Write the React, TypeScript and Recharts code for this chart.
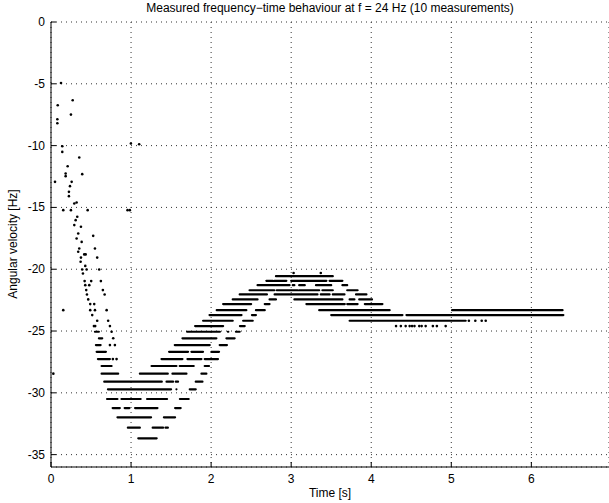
import React from 'react';
import { ComposedChart, Line, Scatter, XAxis, YAxis, CartesianGrid } from 'recharts';

const xTicks = [0, 1, 2, 3, 4, 5, 6];
const yTicks = [0, -5, -10, -15, -20, -25, -30, -35];

// single samples [t, f] during the run-up
const startPoints: [number, number][] = [
  [0.125, -4.93], [0.271, -6.33], [0.084, -6.73], [0.249, -7.49], [0.079, -7.87], [0.079, -8.19],
  [0.998, -9.83], [1.101, -9.89], [0.141, -10.05], [0.141, -10.51], [0.353, -10.96], [0.208, -11.67],
  [0.183, -12.26], [0.183, -12.47], [0.39, -12.31], [0.258, -12.93], [0.05, -12.93], [0.237, -13.28],
  [0.224, -13.74], [0.224, -14.09], [0.291, -14.68], [0.32, -14.6], [0.153, -15.22], [0.249, -15.22],
  [0.458, -15.22], [0.956, -15.22], [0.985, -15.22], [0.328, -15.76], [0.308, -16.03], [0.291, -16.43],
  [0.374, -16.57], [0.34, -17.11], [0.32, -17.51], [0.527, -17.3], [0.383, -17.79], [0.353, -18.32],
  [0.34, -18.59], [0.549, -18.32], [0.415, -18.8], [0.433, -18.8], [0.374, -19.06], [0.577, -19.06],
  [0.37, -19.4], [0.428, -19.73], [0.39, -20.02], [0.445, -20.02], [0.602, -20.02], [0.399, -20.34],
  [0.42, -20.96], [0.502, -20.96], [0.623, -20.96], [0.428, -21.29], [0.478, -21.29], [0.44, -21.69],
  [0.648, -21.69], [0.449, -22.04], [0.67, -22.04], [0.465, -22.44], [0.49, -22.82], [0.54, -22.82],
  [0.153, -23.31], [0.49, -23.31], [0.549, -23.31], [0.695, -23.31], [0.515, -23.71], [0.577, -24.17],
  [0.714, -24.17], [0.536, -24.6], [0.552, -24.6], [0.736, -24.6], [0.757, -25.06], [0.777, -25.59],
  [0.736, -26.14], [0.798, -26.14], [0.773, -27.27], [0.819, -27.27], [0.029, -28.45],
];

// single samples near the top and on the plateau
const laterPoints: [number, number][] = [
  [3.03, -20.3], [3.37, -20.3],
  [5.22, -24.17], [5.3, -24.17], [5.38, -24.17], [5.43, -24.17],
  [4.31, -24.6], [4.37, -24.6], [4.43, -24.6], [4.48, -24.6], [4.51, -24.6], [4.54, -24.6],
  [4.6, -24.6], [4.63, -24.6], [4.68, -24.6], [4.77, -24.6], [4.82, -24.6], [4.93, -24.6],
];

// dense runs of samples on one level: [f, tStart, tEnd]
const dipRuns: [number, number, number][] = [
  [-25.06, 0.549, 0.598], [-25.59, 0.598, 0.64], [-26.14, 0.561, 0.62], [-26.68, 0.57, 0.686],
  [-27.27, 0.586, 0.736], [-27.83, 0.632, 0.757], [-28.45, 0.632, 0.839],
  [-28.45, 1.11, 1.459], [-28.45, 1.517, 1.692], [-28.45, 1.879, 1.941],
  [-27.83, 1.256, 1.567], [-27.83, 1.608, 1.783], [-27.83, 1.92, 1.974],
  [-27.27, 1.38, 1.642], [-27.27, 1.704, 1.879], [-27.27, 1.92, 2.086],
  [-26.68, 1.475, 1.712], [-26.68, 1.754, 1.899], [-26.68, 2.004, 2.099],
  [-26.14, 1.546, 1.983], [-26.14, 2.107, 2.198],
  [-25.59, 1.642, 2.066], [-25.59, 2.191, 2.294],
  [-25.06, 1.7, 2.11], [-25.06, 2.21, 2.215], [-25.06, 2.31, 2.357],
  [-29.1, 0.665, 1.384], [-29.1, 1.443, 1.525], [-29.1, 1.559, 1.587], [-29.1, 1.808, 1.892],
  [-29.72, 0.711, 1.5], [-29.72, 1.567, 1.567], [-29.72, 1.733, 1.808],
  [-30.5, 0.7, 0.83], [-30.5, 0.88, 1.12], [-30.5, 1.2, 1.45], [-30.5, 1.61, 1.72],
  [-31.23, 0.77, 0.86], [-31.23, 0.92, 0.98], [-31.23, 1.05, 1.33], [-31.23, 1.55, 1.62],
  [-31.98, 0.83, 1.25], [-31.98, 1.41, 1.55],
  [-32.82, 0.96, 1.11], [-32.82, 1.27, 1.4], [-32.82, 1.43, 1.46],
  [-33.68, 1.09, 1.32],
];

const riseRuns: [number, number, number][] = [
  [-24.6, 1.8, 2.15], [-24.6, 2.36, 2.42],
  [-24.17, 1.9, 2.27], [-24.17, 2.4, 2.52],
  [-23.71, 1.98, 2.38], [-23.71, 2.51, 2.56],
  [-23.31, 2.07, 2.44], [-23.31, 2.56, 2.67],
  [-22.82, 2.15, 2.5], [-22.82, 2.67, 2.73],
  [-22.44, 2.27, 2.58], [-22.44, 2.73, 2.81],
  [-22.04, 2.357, 2.697],
  [-21.7, 2.48, 2.79],
  [-21.29, 2.58, 2.98],
  [-20.94, 2.69, 2.77], [-20.94, 2.79, 2.94],
  [-20.56, 2.81, 3.52],
];

const fallRuns: [number, number, number][] = [
  [-20.94, 3.0, 3.44], [-20.94, 3.48, 3.64],
  [-21.29, 3.02, 3.04], [-21.29, 3.1, 3.17], [-21.29, 3.31, 3.5], [-21.29, 3.64, 3.7],
  [-21.7, 2.82, 3.08], [-21.7, 3.1, 3.35], [-21.7, 3.39, 3.52], [-21.7, 3.7, 3.83],
  [-22.04, 2.793, 3.329], [-22.04, 3.37, 3.48], [-22.04, 3.52, 3.666], [-22.04, 3.81, 3.94],
  [-22.44, 3.04, 3.64], [-22.44, 3.73, 3.79], [-22.44, 3.85, 4.01],
  [-22.82, 3.19, 3.67], [-22.82, 3.7, 3.83], [-22.82, 3.92, 4.14],
  [-23.31, 3.35, 4.23],
];

const plateauRuns: [number, number, number][] = [
  [-23.71, 3.5, 4.39], [-23.71, 4.44, 6.4],
  [-23.31, 5.01, 6.39],
  [-24.17, 3.73, 5.18],
];

const toPoints = (pts: [number, number][]) => pts.map(([t, f]) => ({ t, f }));
const toRuns = (runs: [number, number, number][]) =>
  runs.flatMap(([f, a, b]) => [{ t: a, f }, { t: b, f }, { t: b, f: null }]);

const runData = toRuns([...dipRuns, ...riseRuns, ...fallRuns, ...plateauRuns]);
const pointData = toPoints([...startPoints, ...laterPoints]);

const font = '"Liberation Sans", Arial, Helvetica, sans-serif';

const YTick = (props: any) => {
  const { x, y, payload } = props;
  return (
    <g>
      <line x1={x + 6} x2={x + 11} y1={y} y2={y} stroke="#000" />
      <text x={x} y={y} dy={4} textAnchor="end" fontSize={12} fontFamily={font} fill="#000">
        {payload.value}
      </text>
    </g>
  );
};

const XTick = (props: any) => {
  const { x, y, payload } = props;
  return (
    <g>
      <line x1={x} x2={x} y1={y - 12} y2={y - 17} stroke="#000" />
      <text x={x} y={y} dy={4} textAnchor="middle" fontSize={12} fontFamily={font} fill="#000">
        {payload.value}
      </text>
    </g>
  );
};

const Dot = (props: any) => <circle cx={props.cx} cy={props.cy} r={1.3} fill="#000" />;

export default function App() {
  return (
    <div style={{ position: 'absolute', left: 0, top: 0, width: 609, height: 503, background: '#fff', fontFamily: font }}>
      <div style={{ position: 'absolute', left: 51, top: 1, width: 558, textAlign: 'center', fontSize: 12, lineHeight: '14px' }}>
        Measured frequency−time behaviour at f = 24 Hz (10 measurements)
      </div>
      <div style={{ position: 'absolute', left: 51, top: 486, width: 558, textAlign: 'center', fontSize: 12, lineHeight: '14px' }}>
        Time [s]
      </div>
      <div
        style={{
          position: 'absolute', left: 13 - 150, top: 244 - 7, width: 300, height: 14,
          textAlign: 'center', fontSize: 12, lineHeight: '14px', transform: 'rotate(-90deg)',
        }}
      >
        Angular velocity [Hz]
      </div>
      <ComposedChart width={609} height={503} margin={{ top: 22, right: 0, bottom: 0, left: 0 }}>
        <CartesianGrid stroke="#333" strokeDasharray="1 4" />
        <XAxis
          dataKey="t"
          type="number"
          domain={[0, 6.97]}
          ticks={xTicks}
          allowDataOverflow
          height={36}
          tickSize={0}
          tickMargin={12}
          axisLine={{ stroke: '#000' }}
          tick={<XTick />}
        />
        <YAxis
          dataKey="f"
          type="number"
          domain={[-36, 0]}
          ticks={yTicks}
          allowDataOverflow
          width={51}
          tickSize={0}
          tickMargin={6}
          axisLine={{ stroke: '#000' }}
          tick={<YTick />}
        />
        <Line
          data={runData}
          dataKey="f"
          type="linear"
          stroke="#000"
          strokeWidth={2.2}
          strokeLinecap="round"
          dot={false}
          activeDot={false}
          connectNulls={false}
          isAnimationActive={false}
        />
        <Scatter data={pointData} dataKey="f" shape={<Dot />} isAnimationActive={false} />
      </ComposedChart>
    </div>
  );
}
